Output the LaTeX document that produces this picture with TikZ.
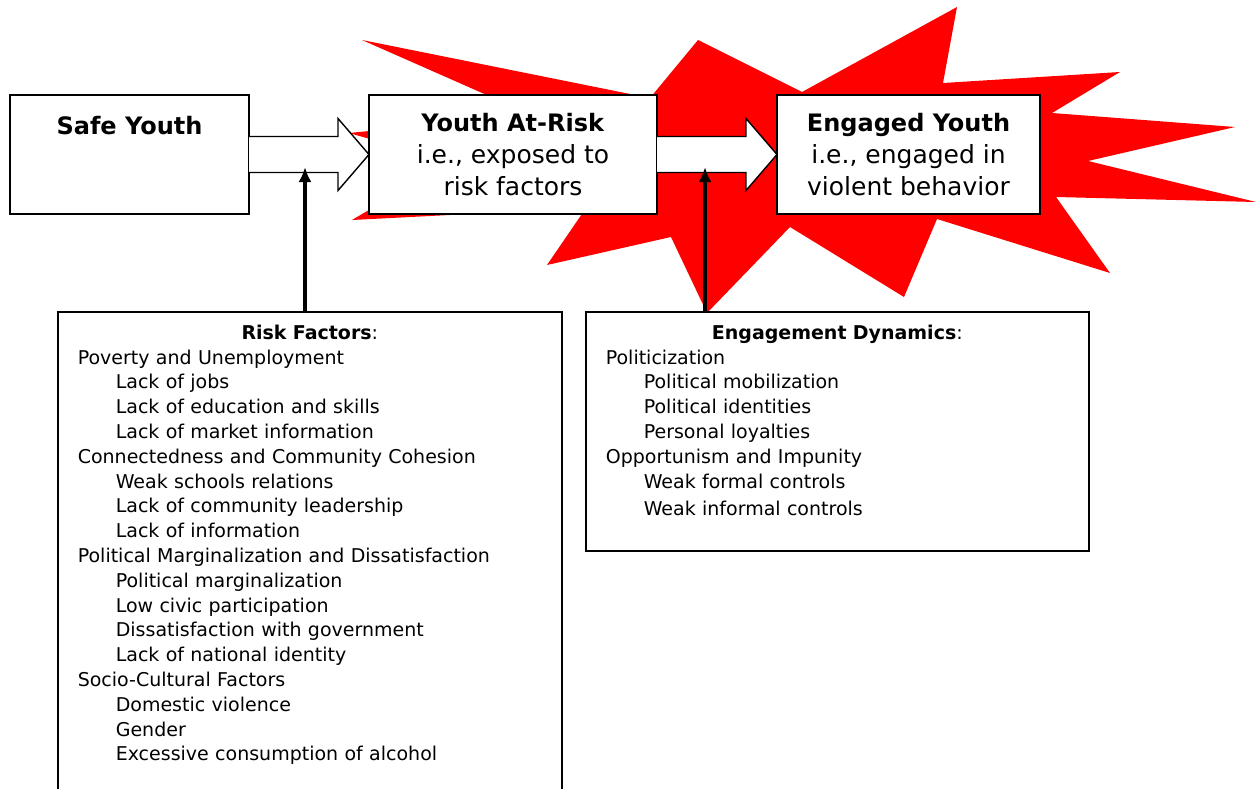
\documentclass[tikz,border=0pt]{standalone}
\usepackage{fontspec}
\setmainfont{DejaVu Sans}
\usetikzlibrary{positioning,calc,arrows.meta}
\tikzset{>={Latex[length=15pt,width=13pt]}}
\newcommand*{\sub}{\hspace*{38pt}}
\newcommand*{\gloss}{\fontsize{25}{32}\selectfont}

\begin{document}
\begin{tikzpicture}[x=1pt, y=-1pt,
    stage/.style={draw, line width=1.6pt, fill=white, minimum height=119pt, inner sep=0pt, outer sep=0pt, align=center, font=\fontsize{24}{32}\selectfont},
    factors/.style={draw, line width=1.6pt, fill=white, anchor=north west, align=left, inner xsep=20pt, inner ysep=13pt, font=\fontsize{19}{24.8}\selectfont},
    shove/.style={draw, line width=1.4pt, fill=white},
    push/.style={line width=4pt, ->}]
    \useasboundingbox (0,0) rectangle (1258,789);
    % blast behind the last stages
    \fill[red] (362,40) -- (650,98) -- (698,40) -- (802,92) -- (957,7) -- (943,83) -- (1120,72) -- (1052,113) -- (1235,127) -- (1088,161) -- (1256,202) -- (1056,197) -- (1110,273) -- (937,219) -- (904,297) -- (790,227) -- (707,313) -- (671,237) -- (547,265) -- (586,208) -- (352,220) -- (450,162) -- (349,133) -- (532,115) -- cycle;
    % stages
    \node[stage, minimum width=239pt] (safe) at (129.5,154.5) {\textbf{Safe Youth}\\ \strut\\[-16pt] \strut};
    \node[stage, minimum width=288pt, right=120pt of safe] (risk) {\textbf{Youth At-Risk}\\ \gloss i.e., exposed to\\ \gloss risk factors};
    \node[stage, minimum width=263pt, right=120pt of risk] (engaged) {\textbf{Engaged Youth}\\ \gloss i.e., engaged in\\ \gloss violent behavior};
    \draw[shove] ($(safe.east)+(0,-18)$) -- ++(89,0) -- ++(0,-18) -- (risk.west) -- ++(-31,36) -- ++(0,-18) -- ($(safe.east)+(0,18)$);
    \draw[shove] ($(risk.east)+(0,-18)$) -- ++(89,0) -- ++(0,-18) -- (engaged.west) -- ++(-31,36) -- ++(0,-18) -- ($(risk.east)+(0,18)$);
    % lists
    \node[factors, text width=464pt, text depth=448pt] (rf) at (57,311) {\makebox[\hsize]{\textbf{Risk Factors}:}\\
        Poverty and Unemployment\\
        \sub Lack of jobs\\
        \sub Lack of education and skills\\
        \sub Lack of market information\\
        Connectedness and Community Cohesion\\
        \sub Weak schools relations\\
        \sub Lack of community leadership\\
        \sub Lack of information\\
        Political Marginalization and Dissatisfaction\\
        \sub Political marginalization\\
        \sub Low civic participation\\
        \sub Dissatisfaction with government\\
        \sub Lack of national identity\\
        Socio-Cultural Factors\\
        \sub Domestic violence\\
        \sub Gender\\
        \sub Excessive consumption of alcohol};
    \node[factors, text width=463pt, text depth=199pt] (dyn) at (585,311) {\makebox[\hsize]{\textbf{Engagement Dynamics}:}\\
        Politicization\\
        \sub Political mobilization\\
        \sub Political identities\\
        \sub Personal loyalties\\
        Opportunism and Impunity\\
        \sub Weak formal controls\\[3pt]
        \sub Weak informal controls};
    \coordinate (hitA) at (305,167);
    \coordinate (hitB) at (705,167);
    \draw[push] (rf.north -| hitA) -- (hitA);
    \draw[push] (dyn.north -| hitB) -- (hitB);
\end{tikzpicture}
\end{document}
